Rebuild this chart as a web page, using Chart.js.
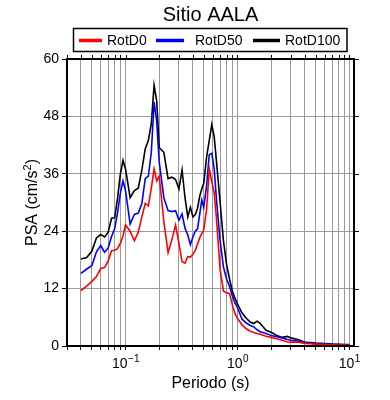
<!DOCTYPE html>
<html><head><meta charset="utf-8">
<script src="https://cdn.jsdelivr.net/npm/chart.js@4.4.1/dist/chart.umd.min.js"></script>
<style>html,body{margin:0;padding:0;background:#fff}#wrap{width:390px;height:400px}</style>
</head><body><div id="wrap"><canvas id="c" width="390" height="400"></canvas></div>
<script>
const chartTitle = 'Sitio AALA';
const xTitle = 'Periodo (s)';
const seriesNames = ['RotD0', 'RotD50', 'RotD100'];
const seriesColors = ['#ff0000', '#0000ff', '#000000'];

const periods = [0.04,0.045,0.05,0.055,0.06,0.065,0.07,0.075,0.08,0.085,0.09,0.095,
  0.1,0.11,0.12,0.13,0.14,0.15,0.16,0.17,0.18,0.19,0.2,
  0.22,0.24,0.26,0.28,0.3,0.32,0.34,0.36,0.38,0.4,0.42,0.44,0.46,0.48,
  0.5,0.53,0.56,0.59,0.62,0.65,0.7,0.75,0.8,0.85,0.9,0.95,1.0,
  1.1,1.2,1.3,1.4,1.5,1.6,1.8,2.0,2.2,2.5,2.8,3.0,3.5,4,4.5,5,6,7,8,9,10];

const rotD0 = [11.6,12.5,13.5,14.5,16.2,16.4,17.8,19.9,20,20.4,21.5,23,
  25.3,24,22,23.8,27,29.8,29.3,33,37,34.5,35.5,
  26,19.5,22.3,25.3,21.5,17.6,17.3,18.7,18.6,19.2,20,21.3,22.6,23.5,
  24.3,28.5,37,34.4,32,26.5,16,11.5,11.1,11,8.6,6.8,5.8,
  4.4,3.6,3.1,2.8,2.6,2.45,2.05,1.8,1.55,1.2,0.85,0.8,
  0.8,0.55,0.5,0.4,0.3,0.25,0.2,0.18,0.15];

const rotD50 = [15.2,16.1,16.8,19.7,21.0,19.6,20.5,22.9,24.5,28,32,34.5,
  32.5,25.5,27.5,27.8,29.8,35,35.5,40.5,51,47,38.5,
  31,28.3,28.1,28.3,26.3,27.6,24.6,23.2,21.2,22.8,24,24.5,27.5,30.5,
  29,33.5,40,40.3,37,30.5,22,16.5,14,12.5,10.5,9,8,
  5.6,4.8,4.3,4.0,3.4,3.0,2.6,2.2,2.0,1.7,1.35,1.2,
  1.0,0.75,0.6,0.5,0.4,0.35,0.3,0.25,0.2];

const rotD100 = [18.2,18.5,19.8,22.6,23.3,22.8,23.8,26.7,26.8,31,36,38.8,
  37,31,32.5,33,36.8,41.2,43,46.5,54.5,51.2,41.5,
  40.5,35,35.3,34.8,32.8,36.8,31,27,29,27,27.5,28.8,31.3,32.8,
  34,39.5,43,46.3,43.7,38.5,30,22,17,14,11.5,10,8.8,
  6.9,5.8,5.0,4.7,5.2,4.7,3.3,2.9,2.3,1.8,2.0,1.7,
  1.3,0.8,0.7,0.6,0.5,0.4,0.35,0.3,0.28];

const xMin = 0.03, xMax = 11;
const xTickValues = [0.03,0.04,0.05,0.06,0.07,0.08,0.09,0.1,0.2,0.3,0.4,0.5,0.6,0.7,0.8,0.9,1,2,3,4,5,6,7,8,9,10];
const xMajorTicks = [0.1, 1, 10];
const xMajorExponents = ['\u22121', '0', '1'];
const yTicks = [0, 12, 24, 36, 48, 60];

const FONT = '"Liberation Sans", Arial, Helvetica, sans-serif';

const seriesList = [rotD0, rotD50, rotD100];
const datasets = seriesList.map((vals, i) => ({
  label: seriesNames[i],
  data: periods.map((p, j) => ({x: p, y: vals[j]})),
  borderColor: seriesColors[i],
  borderWidth: 1.6,
  pointRadius: 0,
  tension: 0,
  fill: false
}));
// draw black on top order: red first? reference shows black/blue/red overlapping; keep order

const decor = {
  id: 'decor',
  afterDraw(chart) {
    const {ctx, chartArea: a, scales: {x, y}} = chart;
    ctx.save();
    // frame
    ctx.strokeStyle = '#000';
    ctx.lineWidth = 2;
    ctx.strokeRect(a.left, a.top, a.right - a.left, a.bottom - a.top);
    // top ticks (outward)
    ctx.lineWidth = 1;
    xTickValues.forEach(v => {
      const px = Math.round(x.getPixelForValue(v)) + 0.5;
      ctx.beginPath(); ctx.moveTo(px, a.top); ctx.lineTo(px, a.top - 4); ctx.stroke();
    });
    // right ticks (outward)
    yTicks.forEach(v => {
      const py = Math.round(y.getPixelForValue(v)) + 0.5;
      ctx.beginPath(); ctx.moveTo(a.right, py); ctx.lineTo(a.right + 5, py); ctx.stroke();
    });
    ctx.fillStyle = '#000';
    // x major tick labels with superscripts
    xMajorTicks.forEach((v, i) => {
      const px = x.getPixelForValue(v);
      ctx.font = '14px ' + FONT;
      const w1 = ctx.measureText('10').width;
      ctx.font = '10px ' + FONT;
      const w2 = ctx.measureText(xMajorExponents[i]).width;
      const x0 = px - (w1 + w2) / 2;
      ctx.textAlign = 'left'; ctx.textBaseline = 'alphabetic';
      ctx.font = '14px ' + FONT;
      ctx.fillText('10', x0, 368);
      ctx.font = '10px ' + FONT;
      ctx.fillText(xMajorExponents[i], x0 + w1 + 0.5, 362);
    });
    // x title
    ctx.font = '16px ' + FONT;
    ctx.textAlign = 'center';
    ctx.fillText(xTitle, (a.left + a.right) / 2, 388);
    // y title rotated with superscript
    ctx.save();
    ctx.translate(37, (a.top + a.bottom) / 2);
    ctx.rotate(-Math.PI / 2);
    const p1 = 'PSA (cm/s', p2 = '2', p3 = ')';
    ctx.font = '16px ' + FONT;
    const wa = ctx.measureText(p1).width, wc = ctx.measureText(p3).width;
    ctx.font = '11px ' + FONT;
    const wb = ctx.measureText(p2).width;
    let sx = -(wa + wb + wc) / 2;
    ctx.textAlign = 'left';
    ctx.font = '16px ' + FONT; ctx.fillText(p1, sx, 0);
    ctx.font = '11px ' + FONT; ctx.fillText(p2, sx + wa, -6);
    ctx.font = '16px ' + FONT; ctx.fillText(p3, sx + wa + wb, 0);
    ctx.restore();
    // main title
    ctx.font = '20px ' + FONT;
    ctx.textAlign = 'center';
    ctx.fillText(chartTitle, (a.left + a.right) / 2, 21);
    // legend box
    ctx.lineWidth = 1.5;
    ctx.strokeStyle = '#000';
    ctx.strokeRect(73.5, 28.5, 273.5, 23);
    const items = [[79, 102, 107], [156, 184, 195], [253, 280, 285]];
    ctx.font = '14px ' + FONT;
    ctx.textAlign = 'left';
    items.forEach((it, i) => {
      ctx.strokeStyle = seriesColors[i];
      ctx.lineWidth = 3.5;
      ctx.beginPath(); ctx.moveTo(it[0], 40.5); ctx.lineTo(it[1], 40.5); ctx.stroke();
      ctx.fillStyle = '#000';
      ctx.fillText(seriesNames[i], it[2], 45);
    });
    ctx.restore();
  }
};

new Chart(document.getElementById('c'), {
  type: 'line',
  data: {datasets},
  options: {
    responsive: false,
    animation: false,
    devicePixelRatio: 1,
    layout: {padding: {top: 59, right: 36, left: 0, bottom: 0}},
    plugins: {legend: {display: false}, title: {display: false}, tooltip: {enabled: false}},
    scales: {
      x: {
        type: 'logarithmic',
        min: xMin, max: xMax,
        afterBuildTicks: s => { s.ticks = xTickValues.map(v => ({value: v})); },
        afterFit: s => { s.height = 54; },
        border: {display: false},
        grid: {color: '#9a9a9a', lineWidth: 1, tickColor: '#000', tickLength: 4},
        ticks: {autoSkip: false, maxRotation: 0, minRotation: 0, callback: () => '', font: {size: 1}}
      },
      y: {
        type: 'linear',
        min: 0, max: 60,
        afterBuildTicks: s => { s.ticks = yTicks.map(v => ({value: v})); },
        afterFit: s => { s.width = 67; },
        border: {display: false},
        grid: {color: '#9a9a9a', lineWidth: 1, tickColor: '#000', tickLength: 5},
        ticks: {color: '#000', padding: 3, font: {family: FONT, size: 14}}
      }
    }
  },
  plugins: [decor]
});
</script>
</body></html>
